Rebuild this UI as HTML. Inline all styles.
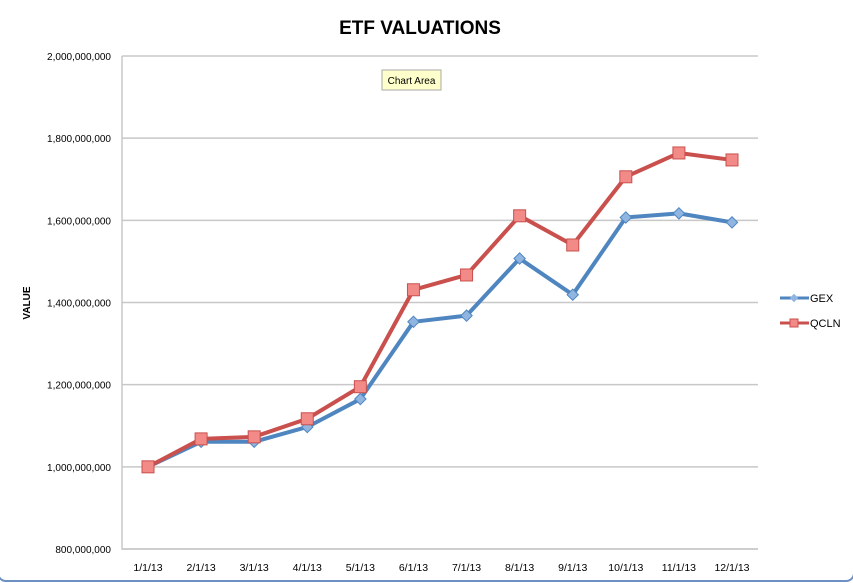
<!DOCTYPE html>
<html><head><meta charset="utf-8"><style>
body{margin:0;background:#fff;font-family:"Liberation Sans",sans-serif;}
svg{display:block}
</style></head><body>
<svg width="853" height="583">
<rect x="-2" y="-10" width="856" height="591" rx="8" fill="#fff" stroke="#6c8fc4" stroke-width="2"/>
<text x="420" y="34" font-size="19" font-weight="bold" text-anchor="middle" fill="#000">ETF VALUATIONS</text>
<text transform="translate(30,303) rotate(-90)" font-size="10" font-weight="bold" text-anchor="middle">VALUE</text>
<g id="grid"></g><g id="series"></g><g id="xl"></g>
<g><rect x="382" y="70" width="59" height="20" fill="#ffffcc" stroke="#aaa"/><text x="411.5" y="84" font-size="10" text-anchor="middle">Chart Area</text></g>
<g>
<g><line x1="780" y1="298" x2="809" y2="298" stroke="#4f86c0" stroke-width="3"/><rect x="791" y="295" width="6" height="6" transform="rotate(45 794 298)" fill="#8fb5e0"/><text x="810" y="302" font-size="11">GEX</text></g>
<g><line x1="780" y1="323" x2="809" y2="323" stroke="#c9504d" stroke-width="3"/><rect x="790" y="319" width="8" height="8" fill="#f28a87" stroke="#c9504d"/><text x="810" y="327" font-size="11">QCLN</text></g>
</g>
</svg>
<script>
const categories=["1/1/13","2/1/13","3/1/13","4/1/13","5/1/13","6/1/13","7/1/13","8/1/13","9/1/13","10/1/13","11/1/13","12/1/13"];
const gex=[1.000,1.061,1.061,1.097,1.165,1.353,1.368,1.507,1.419,1.607,1.617,1.595];
const qcln=[1.000,1.068,1.073,1.117,1.195,1.431,1.467,1.611,1.540,1.706,1.764,1.747];
const yTicks=[800000000,1000000000,1200000000,1400000000,1600000000,1800000000,2000000000];
const NS="http://www.w3.org/2000/svg";
const x0=122,x1=758,yTop=56,yBot=549;
const y=v=>yBot-(v-0.8e9)/(1.2e9)*(yBot-yTop);
const x=i=>148+i*(732-148)/(categories.length-1);
function mk(t,a,p){const e=document.createElementNS(NS,t);for(const k in a)e.setAttribute(k,a[k]);p.appendChild(e);return e;}
const grid=document.getElementById('grid');
yTicks.forEach(v=>{
 const l=mk('line',{x1:x0,x2:x1,y1:y(v),y2:y(v),stroke:'#c8c8c8','stroke-width':1.5},grid);
 
 
 const t=mk('text',{x:111,y:y(v)+4,'font-size':10,'text-anchor':'end'},grid);
 t.textContent=v.toLocaleString('en-US');
 
 
});
const ax=mk('polyline',{points:`${x0},${yTop} ${x0},${yBot} ${x1},${yBot}`,fill:'none',stroke:'#c8c8c8','stroke-width':1.5},grid);


const xl=document.getElementById('xl');
categories.forEach((c,i)=>{const t=mk('text',{x:x(i),y:571,'font-size':10.5,'text-anchor':'middle'},xl);t.textContent=c;
 
 });
const sg=document.getElementById('series');
function draw(vals,col,fill,sq,name){
 const p=mk('polyline',{points:vals.map((v,i)=>x(i)+','+y(v*1e9)).join(' '),fill:'none',stroke:col,'stroke-width':4,'stroke-linejoin':'round'},sg);
 
 
 vals.forEach((v,i)=>{const cx=x(i),cy=y(v*1e9);let m;
  if(sq)m=mk('rect',{x:cx-6,y:cy-6,width:12,height:12,fill:fill,stroke:col,'stroke-width':1},sg);
  else m=mk('rect',{x:cx-4,y:cy-4,width:8,height:8,fill:fill,stroke:col,transform:`rotate(45 ${cx} ${cy})`},sg);
  
  });
}
draw(gex,'#4f86c0','#8fb5e0',false,'gex');
draw(qcln,'#c9504d','#f28a87',true,'qcln');
</script>
</body></html>
